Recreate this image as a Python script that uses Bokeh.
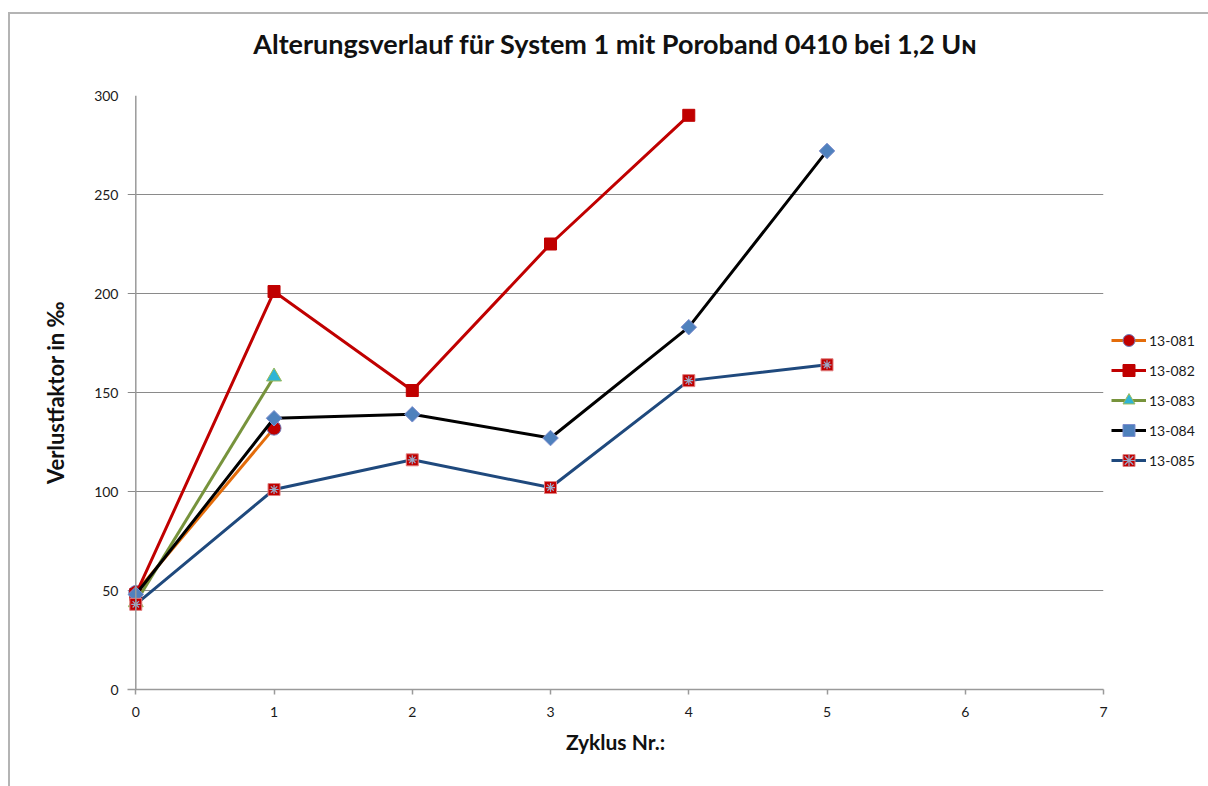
import math
from bokeh.plotting import figure
from bokeh.models import Range1d, Legend, LegendItem, FixedTicker, Span, Title
from bokeh.embed import file_html
from bokeh.resources import INLINE

# ---- data ----
series_names = ["13-081", "13-082", "13-083", "13-084", "13-085"]
cycles_081 = [0, 1]
values_081 = [49, 132]
cycles_082 = [0, 1, 2, 3, 4]
values_082 = [48, 201, 151, 225, 290]
cycles_083 = [0, 1]
values_083 = [44, 158]
cycles_084 = [0, 1, 2, 3, 4, 5]
values_084 = [48, 137, 139, 127, 183, 272]
cycles_085 = [0, 1, 2, 3, 4, 5]
values_085 = [43, 101, 116, 102, 156, 164]
x_ticks = [0, 1, 2, 3, 4, 5, 6, 7]
y_ticks = [0, 50, 100, 150, 200, 250, 300]

title_text = "Alterungsverlauf für System 1 mit Poroband 0410 bei 1,2 U\u0274"
x_label = "Zyklus Nr.:"
y_label = "Verlustfaktor in \u2030"

FONT = "Lato"
GRID = "#8a8a8a"
AXIS = "#9a9a9a"

p = figure(frame_width=976, frame_height=594,
           x_range=Range1d(-0.06, 7), y_range=Range1d(0, 300),
           output_backend="svg", toolbar_location=None,
           min_border_left=117, min_border_top=81, min_border_bottom=97,
           min_border_right=0, background_fill_color="white",
           border_fill_color="white")
p.margin = (12, 0, 0, 8)
p.styles = {"border-left": "2px solid #b4b4b4", "border-top": "2px solid #b4b4b4"}
p.outline_line_color = None

p.title.text = title_text
p.title.align = "center"
p.title.standoff = 0
p.title.text_font = FONT
p.title.text_font_style = "bold"
p.title.text_font_size = "27px"
p.title.text_color = "#111111"

# spacer title between the real title and the frame
spacer_title = Title(text=" ", text_font_size="10px", standoff=23)
p.add_layout(spacer_title, "above")

# axes
p.xaxis.ticker = FixedTicker(ticks=x_ticks)
p.yaxis.ticker = FixedTicker(ticks=y_ticks)
for ax in (p.xaxis, p.yaxis):
    ax.axis_line_color = AXIS
    ax.axis_line_width = 1.5
    ax.major_tick_line_color = AXIS
    ax.major_tick_line_width = 1.5
    ax.major_tick_out = 5
    ax.major_tick_in = 0
    ax.minor_tick_line_color = None
    ax.major_label_text_font = FONT
    ax.major_label_text_font_size = "14px"
    ax.major_label_text_color = "#1a1a1a"
    ax.axis_label_text_font = FONT
    ax.axis_label_text_font_style = "bold"
    ax.axis_label_text_color = "#111111"
p.xaxis.axis_label_text_font_size = "21px"
p.yaxis.axis_label_text_font_size = "22px"
p.yaxis.axis_line_color = None
p.yaxis.major_tick_out = 0
p.xaxis.axis_label = x_label
p.yaxis.axis_label = y_label
p.xaxis.major_label_standoff = 12
p.yaxis.major_label_standoff = 9
p.xaxis.axis_label_standoff = 9
p.yaxis.axis_label_standoff = 22

p.add_layout(Span(location=0, dimension="height", line_color=AXIS, line_width=1.5))

p.xgrid.visible = False
p.ygrid.ticker = FixedTicker(ticks=y_ticks)
p.ygrid.grid_line_color = GRID
p.ygrid.grid_line_width = 1

LW = 3
items = []

l1 = p.line(cycles_081, values_081, line_color="#E46C0A", line_width=LW)
m1 = p.scatter(cycles_081, values_081, marker="circle", size=14,
               fill_color="#C00000", line_color="#6F7FBF", line_width=1)
items.append(LegendItem(label=series_names[0], renderers=[l1, m1]))

l2 = p.line(cycles_082, values_082, line_color="#C00000", line_width=LW)
m2 = p.scatter(cycles_082, values_082, marker="square", size=12,
               fill_color="#C00000", line_color="#C00000", line_width=1)
items.append(LegendItem(label=series_names[1], renderers=[l2, m2]))

l3 = p.line(cycles_083, values_083, line_color="#77933C", line_width=LW)
m3 = p.scatter(cycles_083, values_083, marker="triangle", size=15,
               fill_color="#2FB4D6", line_color="#9BBB59", line_width=1)
items.append(LegendItem(label=series_names[2], renderers=[l3, m3]))

l4 = p.line(cycles_084, values_084, line_color="#000000", line_width=LW)
m4 = p.scatter(cycles_084, values_084, marker="square", size=11, angle=math.pi / 4,
               fill_color="#4F81BD", line_color="#7F8FCF", line_width=1)
items.append(LegendItem(label=series_names[3], renderers=[l4, m4]))

l5 = p.line(cycles_085, values_085, line_color="#1F497D", line_width=LW)
m5 = p.scatter(cycles_085, values_085, marker="square", size=12,
               fill_color="#C00000", line_color="#E08080", line_width=1)
m5x = p.scatter(cycles_085, values_085, marker="asterisk", size=9,
                line_color="#9AAAC8", line_width=1.2)
items.append(LegendItem(label=series_names[4], renderers=[l5, m5, m5x]))

legend = Legend(items=items, location=(8, 214))
legend.border_line_color = None
legend.background_fill_alpha = 0
legend.label_text_font = FONT
legend.label_text_font_size = "14px"
legend.label_text_color = "#1a1a1a"
legend.glyph_width = 35
legend.glyph_height = 30
legend.label_height = 30
legend.spacing = 0
legend.padding = 5
legend.margin = 0
legend.label_standoff = 3
p.add_layout(legend, "right")

open("out.html", "w").write(file_html(p, INLINE))
